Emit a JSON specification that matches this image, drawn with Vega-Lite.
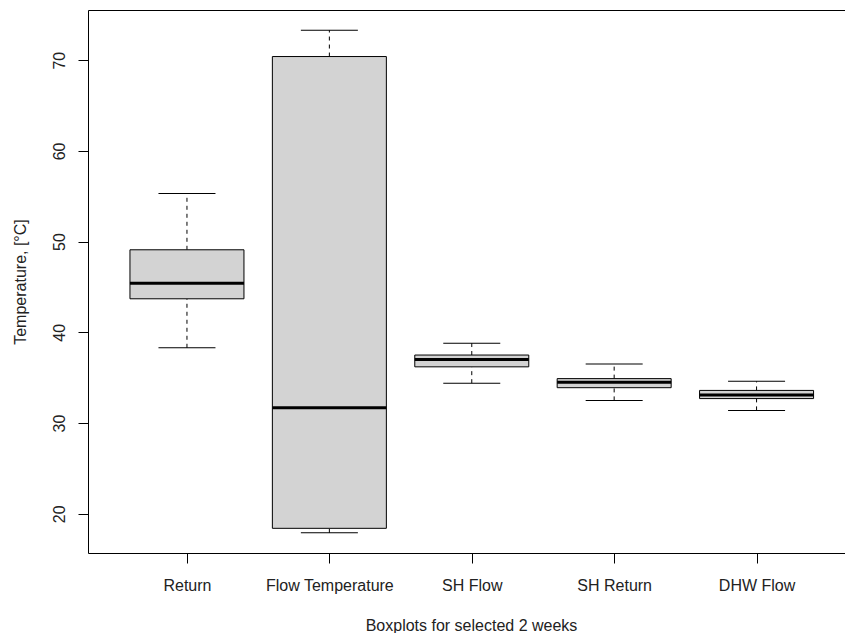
{
  "$schema": "https://vega.github.io/schema/vega-lite/v6.json",
  "width": 757,
  "height": 543,
  "autosize": {"type": "none"},
  "padding": {"left": 88, "top": 10, "right": 0, "bottom": 80},
  "background": "white",
  "config": {
    "view": {"stroke": null},
    "font": "Liberation Sans",
    "axis": {"grid": false, "domainColor": "black", "tickColor": "black", "domainWidth": 1, "tickWidth": 1}
  },
  "data": {
    "values": [
      {"name": "Return", "pos": 1, "lo": 38.3, "q1": 43.7, "med": 45.4, "q3": 49.1, "hi": 55.3},
      {"name": "Flow Temperature", "pos": 2, "lo": 17.9, "q1": 18.4, "med": 31.7, "q3": 70.4, "hi": 73.3},
      {"name": "SH Flow", "pos": 3, "lo": 34.4, "q1": 36.2, "med": 37.0, "q3": 37.5, "hi": 38.8},
      {"name": "SH Return", "pos": 4, "lo": 32.5, "q1": 33.9, "med": 34.5, "q3": 34.9, "hi": 36.5},
      {"name": "DHW Flow", "pos": 5, "lo": 31.4, "q1": 32.7, "med": 33.1, "q3": 33.6, "hi": 34.6}
    ]
  },
  "layer": [
    {
      "mark": {"type": "rule", "color": "black", "strokeWidth": 1, "strokeDash": [4, 4]},
      "encoding": {
        "x": {"field": "pos", "type": "quantitative", "scale": {"domain": [0.305, 5.621], "nice": false, "zero": false, "padding": 0}, "axis": null},
        "y": {"field": "lo", "type": "quantitative", "scale": {"domain": [15.68, 75.53], "nice": false, "zero": false, "padding": 0}, "axis": null},
        "y2": {"field": "q1"}
      }
    },
    {
      "mark": {"type": "rule", "color": "black", "strokeWidth": 1, "strokeDash": [4, 4]},
      "encoding": {
        "x": {"field": "pos", "type": "quantitative", "axis": null},
        "y": {"field": "q3", "type": "quantitative", "axis": null},
        "y2": {"field": "hi"}
      }
    },
    {
      "mark": {"type": "tick", "orient": "horizontal", "color": "black", "size": 57, "thickness": 1, "opacity": 1},
      "encoding": {
        "x": {"field": "pos", "type": "quantitative", "axis": null},
        "y": {"field": "lo", "type": "quantitative", "axis": null}
      }
    },
    {
      "mark": {"type": "tick", "orient": "horizontal", "color": "black", "size": 57, "thickness": 1, "opacity": 1},
      "encoding": {
        "x": {"field": "pos", "type": "quantitative", "axis": null},
        "y": {"field": "hi", "type": "quantitative", "axis": null}
      }
    },
    {
      "mark": {"type": "bar", "width": 114, "fill": "#d3d3d3", "stroke": "black", "strokeWidth": 1},
      "encoding": {
        "x": {
          "field": "pos", "type": "quantitative",
          "axis": {
            "orient": "bottom",
            "values": [1, 2, 3, 4, 5],
            "labelExpr": "['Return','Flow Temperature','SH Flow','SH Return','DHW Flow'][datum.value - 1]",
            "tickSize": 10,
            "labelPadding": 14,
            "labelBaseline": "top",
            "labelAngle": 0,
            "labelFontSize": 16,
            "labelColor": "#222",
            "labelFlush": false,
            "labelOverlap": false,
            "title": "Boxplots for selected 2 weeks",
            "titleFontSize": 16,
            "titleFontWeight": "normal",
            "titleColor": "#222",
            "titleBaseline": "alphabetic",
            "titleAlign": "center",
            "titleX": 383,
            "titleY": 77
          }
        },
        "y": {
          "field": "q1", "type": "quantitative",
          "axis": {
            "values": [20, 30, 40, 50, 60, 70],
            "tickSize": 10,
            "labelAngle": -90,
            "labelAlign": "center",
            "labelBaseline": "alphabetic",
            "labelPadding": 14,
            "labelFontSize": 16,
            "labelColor": "#222",
            "title": "Temperature, [°C]",
            "titleFontSize": 16,
            "titleFontWeight": "normal",
            "titleColor": "#222",
            "titleBaseline": "alphabetic",
            "titleAlign": "center",
            "titleAngle": -90,
            "titleX": -63
          }
        },
        "y2": {"field": "q3"}
      }
    },
    {
      "mark": {"type": "tick", "orient": "horizontal", "color": "black", "size": 114, "thickness": 3, "opacity": 1},
      "encoding": {
        "x": {
          "field": "pos", "type": "quantitative",
          "axis": {"orient": "top", "labels": false, "ticks": false, "title": null, "domain": true}
        },
        "y": {"field": "med", "type": "quantitative", "axis": null}
      }
    }
  ],
  "resolve": {"axis": {"x": "independent", "y": "independent"}}
}
